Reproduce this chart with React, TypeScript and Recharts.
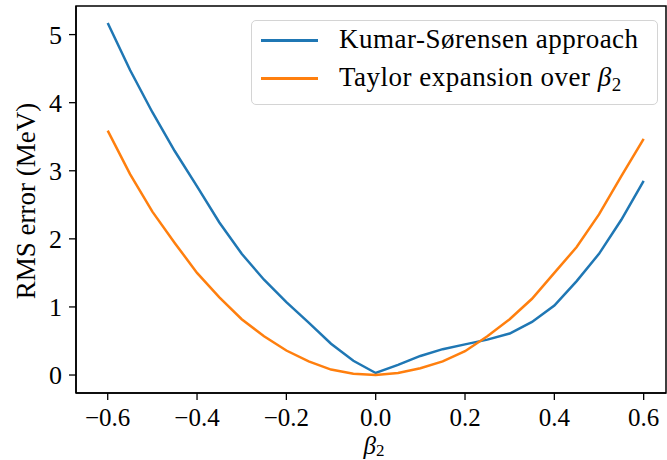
import { LineChart, Line, XAxis, YAxis, ReferenceArea, Label } from 'recharts'

const betaValues = [
    -0.6, -0.55, -0.5, -0.45, -0.4, -0.35, -0.3, -0.25, -0.2, -0.15, -0.1, -0.05, 0,
    0.05, 0.1, 0.15, 0.2, 0.25, 0.3, 0.35, 0.4, 0.45, 0.5, 0.55, 0.6,
]
const kumarSorensen = [
    5.17, 4.48, 3.86, 3.29, 2.77, 2.24, 1.78, 1.4, 1.07, 0.77, 0.46, 0.21, 0.03,
    0.15, 0.28, 0.38, 0.45, 0.52, 0.61, 0.78, 1.02, 1.38, 1.78, 2.28, 2.85,
]
const taylor = [
    3.59, 2.95, 2.4, 1.94, 1.5, 1.14, 0.82, 0.57, 0.36, 0.2, 0.08, 0.02, 0.0,
    0.03, 0.1, 0.2, 0.35, 0.57, 0.82, 1.12, 1.5, 1.88, 2.36, 2.92, 3.47,
]
const xTicks = [-0.6, -0.4, -0.2, 0, 0.2, 0.4, 0.6]
const yTicks = [0, 1, 2, 3, 4, 5]

const data = betaValues.map((beta, i) => ({
    beta,
    kumar: kumarSorensen[i],
    taylor: taylor[i],
}))

const FONT = '"Liberation Serif", "DejaVu Serif", serif'
const BLUE = '#1f77b4'
const ORANGE = '#ff7f0e'
const X_DOMAIN = [-0.671, 0.65]
const Y_DOMAIN = [-0.264, 5.42]

const fmtX = (v: number) => (v < 0 ? '\u2212' : '') + Math.abs(v).toFixed(1)

// legend drawn in HTML on top of the plot, matplotlib style
function LegendBox() {
    const row = (color: string, top: number, label: React.ReactNode) => (
        <div style={{ position: 'absolute', left: 0, top, height: 0 }}>
            <div style={{ position: 'absolute', left: 9, top: -1.25, width: 57, height: 2.5, background: color }} />
            <div style={{ position: 'absolute', left: 87, top: -18, whiteSpace: 'nowrap', fontSize: 27, lineHeight: '32px', letterSpacing: 0.5, color: '#000' }}>
                {label}
            </div>
        </div>
    )
    return (
        <div
            style={{
                position: 'absolute',
                left: 251,
                top: 20,
                width: 405,
                height: 83,
                border: '1.5px solid #d4d4d4',
                borderRadius: 5,
                background: 'rgba(255,255,255,0.8)',
                fontFamily: FONT,
            }}
        >
            {row(BLUE, 19.5, 'Kumar-Sørensen approach')}
            {row(ORANGE, 57.5, <>Taylor expansion over <i>β</i><sub style={{ fontSize: 19, verticalAlign: -5 }}>2</sub></>)}
        </div>
    )
}

export default function App() {
    return (
        <div style={{ position: 'absolute', left: 0, top: 0, width: 667, height: 460, background: '#fff' }}>
            <LineChart width={667} height={460} data={data} margin={{ top: 6, right: 1, bottom: 0, left: 0 }}>
                <ReferenceArea x1={X_DOMAIN[0]} x2={X_DOMAIN[1]} y1={Y_DOMAIN[0]} y2={Y_DOMAIN[1]} fill="none" stroke="#000" strokeWidth={1.5} />
                <XAxis
                    dataKey="beta"
                    type="number"
                    domain={X_DOMAIN}
                    allowDataOverflow
                    ticks={xTicks}
                    tickFormatter={fmtX}
                    height={67}
                    axisLine={{ stroke: '#000', strokeWidth: 1.5 }}
                    tickLine={{ stroke: '#000', strokeWidth: 1.3 }}
                    tickSize={7}
                    tickMargin={8}
                    tick={{ fill: '#000', fontSize: 25, fontFamily: FONT }}
                >
                    <Label
                        content={() => (
                            <text x={374} y={454} textAnchor="middle" fontFamily={FONT} fontSize={25} fill="#000">
                                <tspan fontStyle="italic">β</tspan>
                                <tspan fontSize={17} dy={2}>2</tspan>
                            </text>
                        )}
                    />
                </XAxis>
                <YAxis
                    type="number"
                    domain={Y_DOMAIN}
                    allowDataOverflow
                    ticks={yTicks}
                    width={76}
                    axisLine={{ stroke: '#000', strokeWidth: 1.5 }}
                    tickLine={{ stroke: '#000', strokeWidth: 1.3 }}
                    tickSize={7}
                    tickMargin={7}
                    tick={{ fill: '#000', fontSize: 26, fontFamily: FONT }}
                >
                    <Label
                        content={() => (
                            <text x={35} y={201} transform="rotate(-90 35 201)" textAnchor="middle" fontFamily={FONT} fontSize={27} fill="#000">
                                RMS error (MeV)
                            </text>
                        )}
                    />
                </YAxis>
                <Line type="linear" dataKey="kumar" stroke={BLUE} strokeWidth={2.5} dot={false} isAnimationActive={false} />
                <Line type="linear" dataKey="taylor" stroke={ORANGE} strokeWidth={2.5} dot={false} isAnimationActive={false} />
            </LineChart>
            <LegendBox />
        </div>
    )
}
